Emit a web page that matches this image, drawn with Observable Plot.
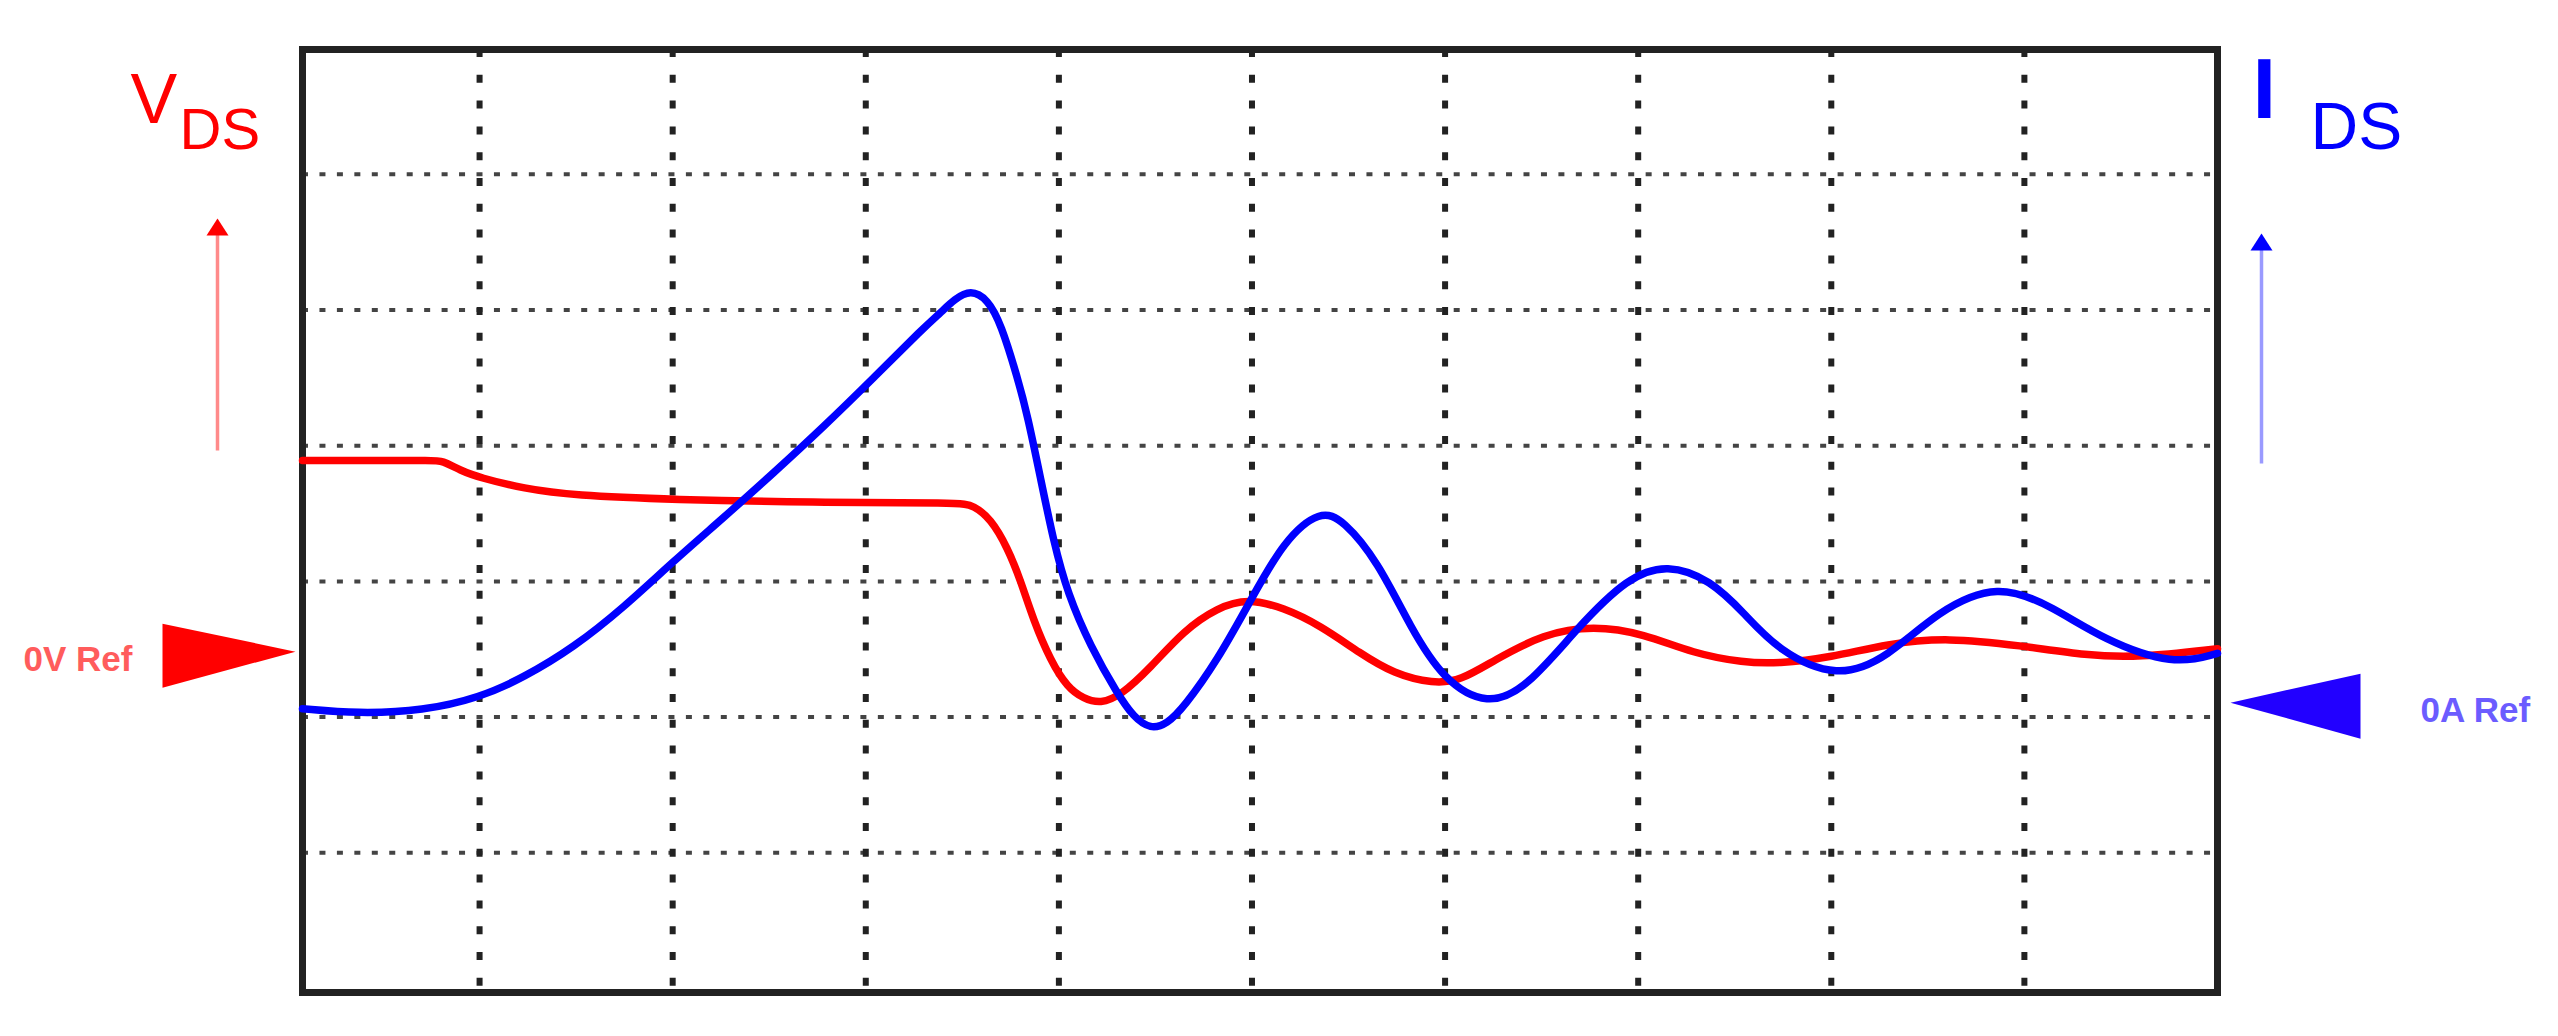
<!DOCTYPE html>
<html>
<head>
<meta charset="utf-8">
<script src="https://cdn.jsdelivr.net/npm/d3@7"></script>
<script src="https://cdn.jsdelivr.net/npm/@observablehq/plot@0.6"></script>
<style>
  html, body { margin: 0; padding: 0; background: #fff; }
  #chart svg { display: block; }
</style>
</head>
<body>
<div id="chart"></div>
<script>
// ---- data (time in grid divisions, value in grid divisions) ----
const vdsTime  = [0.083, 0.5, 0.75, 0.808, 0.9, 1.0, 1.228, 1.487, 2.005, 2.714, 3.491, 3.558, 3.646, 3.734, 3.802, 3.869, 3.957, 4.045, 4.128, 4.216, 4.320, 4.475, 4.646, 4.822, 4.977, 5.164, 5.355, 5.562, 5.733, 5.940, 6.080, 6.251, 6.510, 6.769, 7.028, 7.287, 7.546, 7.722, 7.996, 8.292, 8.602, 8.980, 9.327, 9.586, 10.0];
const vdsValue = [3.891, 3.891, 3.891, 3.891, 3.817, 3.765, 3.684, 3.633, 3.603, 3.581, 3.581, 3.559, 3.463, 3.249, 3.006, 2.711, 2.416, 2.217, 2.136, 2.099, 2.158, 2.364, 2.637, 2.807, 2.873, 2.807, 2.674, 2.468, 2.320, 2.246, 2.268, 2.416, 2.615, 2.674, 2.615, 2.468, 2.401, 2.394, 2.438, 2.541, 2.586, 2.527, 2.453, 2.438, 2.504];

const idsTime  = [0.083, 0.368, 0.710, 1.0, 1.228, 1.487, 1.746, 2.005, 2.264, 2.523, 2.782, 3.041, 3.30, 3.387, 3.46, 3.543, 3.631, 3.70, 3.786, 3.838, 3.905, 3.973, 4.045, 4.164, 4.304, 4.387, 4.475, 4.56, 4.646, 4.822, 4.993, 5.164, 5.355, 5.474, 5.650, 5.821, 5.992, 6.220, 6.427, 6.686, 6.945, 7.152, 7.375, 7.546, 7.722, 8.033, 8.292, 8.551, 8.862, 9.151, 9.410, 9.773, 10.0];
const idsValue = [2.062, 2.025, 2.047, 2.143, 2.291, 2.512, 2.807, 3.15, 3.47, 3.80, 4.14, 4.50, 4.87, 4.98, 5.08, 5.15, 5.08, 4.90, 4.50, 4.22, 3.76, 3.29, 2.91, 2.52, 2.17, 2.00, 1.91, 1.95, 2.07, 2.42, 2.86, 3.30, 3.53, 3.45, 3.15, 2.66, 2.27, 2.08, 2.22, 2.66, 3.03, 3.13, 3.01, 2.77, 2.49, 2.28, 2.44, 2.78, 2.99, 2.81, 2.57, 2.38, 2.47];

const xGridTicks = [1, 2, 3, 4, 5, 6, 7, 8, 9];
const yGridTicks = [1, 2, 3, 4, 5, 6];

const refLabels = ["0V Ref", "0A Ref"];
const refLevels = [2.482, 2.106];

const vLabel = ["V", "DS"];
const iLabel = ["I", "DS"];

// ---- build tables ----
const vds = vdsTime.map((t, i) => ({t, v: vdsValue[i]}));
const ids = idsTime.map((t, i) => ({t, v: idsValue[i]}));

// ---- custom glyphs ----
const triRight = {draw(ctx) { ctx.moveTo(0, 0); ctx.lineTo(-133, -28); ctx.lineTo(-133, 36); ctx.closePath(); }};
const triLeft  = {draw(ctx) { ctx.moveTo(0, 0); ctx.lineTo(130, -29); ctx.lineTo(130, 36); ctx.closePath(); }};
const shaft = (len) => ({draw(ctx) { ctx.moveTo(0, 0); ctx.lineTo(0, -len); }});
const head  = {draw(ctx) { ctx.moveTo(0, 0); ctx.lineTo(-11, 17); ctx.lineTo(11, 17); ctx.closePath(); }};

const RED = "#ff0000", BLUE = "#0000ff";
const font = "'Liberation Sans', Arial, sans-serif";

const chart = Plot.plot({
  width: 2558,
  height: 1036,
  marginLeft: 302,
  marginRight: 341,
  marginTop: 49,
  marginBottom: 44,
  style: {background: "#fff", fontFamily: font, overflow: "visible"},
  x: {domain: [0.083, 10], axis: null},
  y: {domain: [-0.03, 6.92], axis: null},
  marks: [
    // grid
    Plot.ruleY(yGridTicks, {y: d => d, stroke: "#444", strokeWidth: 4, strokeDasharray: "6,11.45"}),
    Plot.ruleX(xGridTicks, {x: d => d, stroke: "#222", strokeWidth: 6, strokeDasharray: "8,17.8"}),
    Plot.frame({stroke: "#222", strokeWidth: 7}),

    // waveforms
    Plot.line(vds, {x: "t", y: "v", stroke: RED, strokeWidth: 7.5, curve: "basis"}),
    Plot.line(ids, {x: "t", y: "v", stroke: BLUE, strokeWidth: 7.5, curve: "basis"}),

    // reference markers
    Plot.dot([refLevels[0]], {y: d => d, frameAnchor: "left", dx: -7, symbol: triRight, fill: RED, stroke: "none"}),
    Plot.text([refLabels[0]], {y: () => refLevels[0], text: d => d, frameAnchor: "left", dx: -170, dy: 19,
      textAnchor: "end", lineAnchor: "bottom", fontSize: 35, fontWeight: "bold", fill: "#ff5c5c"}),
    Plot.dot([refLevels[1]], {y: d => d, frameAnchor: "right", dx: 13, symbol: triLeft, fill: "#2200ff", stroke: "none"}),
    Plot.text([refLabels[1]], {y: () => refLevels[1], text: d => d, frameAnchor: "right", dx: 203, dy: 19,
      textAnchor: "start", lineAnchor: "bottom", fontSize: 35, fontWeight: "bold", fill: "#6b5cff"}),

    // V_DS label + arrow
    Plot.text([vLabel[0]], {text: d => d, frameAnchor: "top-left", dx: -172, dy: 73, textAnchor: "start", lineAnchor: "bottom", fontSize: 70, fill: RED}),
    Plot.text([vLabel[1]], {text: d => d, frameAnchor: "top-left", dx: -123, dy: 99, textAnchor: "start", lineAnchor: "bottom", fontSize: 58, fill: RED}),
    Plot.dot([0], {frameAnchor: "top-left", dx: -85, dy: 401, symbol: shaft(216), stroke: "#ff8a8a", strokeWidth: 3.5, fill: "none"}),
    Plot.dot([0], {frameAnchor: "top-left", dx: -85, dy: 169, symbol: head, fill: RED, stroke: "none"}),

    // I_DS label + arrow
    Plot.text([iLabel[0]], {text: d => d, frameAnchor: "top-right", dx: 35, dy: 68, textAnchor: "start", lineAnchor: "bottom", fontSize: 85, fontWeight: "bold", fill: BLUE}),
    Plot.text([iLabel[1]], {text: d => d, frameAnchor: "top-right", dx: 93, dy: 99, textAnchor: "start", lineAnchor: "bottom", fontSize: 66, fill: BLUE}),
    Plot.dot([0], {frameAnchor: "top-right", dx: 44, dy: 414, symbol: shaft(214), stroke: "#9a9aff", strokeWidth: 3.5, fill: "none"}),
    Plot.dot([0], {frameAnchor: "top-right", dx: 44, dy: 184, symbol: head, fill: BLUE, stroke: "none"})
  ]
});

document.getElementById("chart").appendChild(chart);
</script>
</body>
</html>
